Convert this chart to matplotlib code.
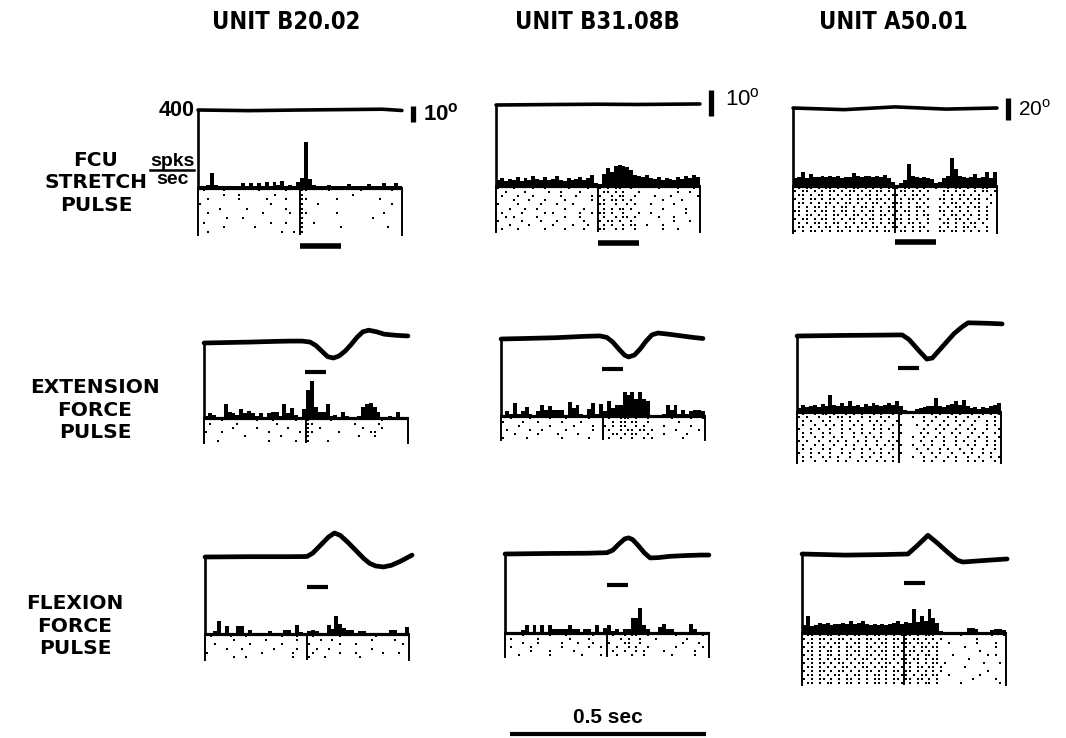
import numpy as np
import matplotlib
matplotlib.use("Agg")
import matplotlib.pyplot as plt
from matplotlib import font_manager as fm
from matplotlib.lines import Line2D
from matplotlib.transforms import blended_transform_factory as blend

# ---------------------------------------------------------------- data
UNITS = ["UNIT B20.02", "UNIT B31.08B", "UNIT A50.01"]
CONDITIONS = ["FCU\nSTRETCH\nPULSE", "EXTENSION\nFORCE\nPULSE", "FLEXION\nFORCE\nPULSE"]
SCALE_DEG = [10, 10, 20]            # angle calibration bars (deg)
FULL_SCALE = 400                    # spks/sec at top of rate axis
BIN = 0.01                          # histogram bin (s)
T_START, T_END = -0.26, 0.26        # time window around pulse onset (s)
PULSES = [(0.0, 0.105), (-0.003, 0.052), (0.0, 0.054)]   # pulse on/off (s)
TIME_BAR_SEC = 0.5

# histograms (spks/sec), 52 bins from -0.26 s
H11 = [10, 10, 15, 75, 15, 10, 10, 10, 10, 12, 10, 25, 12, 25, 10, 25, 12, 30, 10, 30,
       15, 35, 12, 15, 10, 30, 50, 235, 45, 15, 10, 12, 10, 15, 10, 10, 8, 8, 20, 8,
       8, 8, 8, 20, 8, 8, 8, 25, 8, 8, 25, 8]
H12 = [30, 40, 25, 35, 30, 45, 25, 40, 30, 50, 35, 30, 45, 30, 35, 50, 30, 25, 40, 30,
       35, 45, 30, 40, 55, 15, 10, 60, 90, 70, 100, 105, 100, 95, 80, 55, 50, 45, 55, 40,
       35, 45, 30, 40, 35, 30, 45, 35, 50, 40, 55, 45]
H13 = [40, 45, 70, 40, 60, 45, 45, 50, 45, 50, 45, 50, 40, 45, 45, 65, 50, 45, 50, 50,
       45, 50, 45, 55, 40, 20, 5, 15, 30, 115, 50, 45, 40, 45, 40, 35, 15, 20, 40, 50,
       145, 85, 50, 45, 40, 45, 60, 40, 45, 70, 40, 70]
H21 = [10, 25, 15, 5, 0, 75, 30, 25, 15, 50, 25, 40, 25, 10, 25, 0, 25, 30, 30, 10,
       75, 25, 55, 15, 0, 50, 150, 200, 60, 30, 30, 75, 10, 15, 5, 30, 10, 5, 0, 10,
       60, 75, 80, 60, 30, 5, 5, 10, 5, 30, 5, 0]
H22 = [5, 25, 10, 70, 10, 25, 45, 10, 5, 25, 55, 30, 50, 30, 30, 30, 5, 75, 40, 55,
       10, 5, 35, 65, 10, 60, 25, 80, 40, 55, 55, 125, 110, 125, 90, 125, 90, 80, 5, 5,
       5, 10, 55, 30, 55, 10, 30, 10, 25, 30, 30, 25]
H23 = [20, 35, 25, 30, 35, 25, 40, 30, 90, 35, 30, 45, 30, 60, 30, 35, 25, 40, 30, 50,
       35, 30, 35, 50, 35, 60, 30, 10, 5, 5, 15, 20, 25, 30, 30, 75, 30, 25, 35, 40,
       60, 35, 65, 30, 20, 25, 15, 25, 20, 30, 35, 50]
H31 = [0, 5, 15, 65, 5, 40, 5, 5, 40, 40, 5, 20, 0, 0, 0, 5, 15, 0, 0, 0,
       20, 20, 5, 45, 10, 5, 15, 20, 15, 5, 5, 45, 25, 95, 50, 30, 20, 20, 5, 15,
       15, 0, 0, 0, 0, 0, 0, 20, 20, 0, 5, 35]
H32 = [0, 5, 5, 5, 15, 40, 5, 40, 5, 40, 5, 40, 20, 20, 20, 20, 40, 20, 20, 5,
       20, 20, 5, 40, 5, 25, 40, 10, 20, 5, 20, 20, 75, 75, 125, 40, 20, 5, 5, 30,
       45, 20, 20, 0, 0, 0, 5, 45, 20, 0, 0, 0]
H33 = [40, 85, 35, 40, 50, 45, 50, 40, 45, 45, 50, 45, 60, 45, 50, 60, 45, 40, 45, 40,
       45, 40, 45, 50, 60, 45, 55, 50, 120, 55, 85, 60, 120, 75, 50, 10, 5, 5, 5, 5,
       5, 5, 25, 25, 20, 5, 5, 5, 15, 20, 20, 15]

# joint-angle traces: time (s) and angle (deg, relative to start)
TR11_T = [-0.26, -0.13, 0.0, 0.13, 0.21, 0.26]
TR11_D = [0, -0.4, 0, 0.3, 0.5, -0.3]
TR12_T = [-0.26, -0.1, 0.0, 0.1, 0.26]
TR12_D = [0, 0.2, 0.3, 0.2, 0.4]
TR13_T = [-0.26, -0.13, 0.0, 0.13, 0.26]
TR13_D = [0, -1.5, 1, -1, 0]
TR21_T = [-0.26, -0.2, -0.14, -0.08, -0.04, -0.01, 0.01, 0.025, 0.04, 0.055, 0.07,
          0.085, 0.10, 0.115, 0.13, 0.145, 0.16, 0.18, 0.2, 0.23, 0.26]
TR21_D = [0, 0.3, 0.6, 1.0, 1.2, 1.2, 0.6, -1.5, -5, -8.5, -9.4,
          -8, -5, -1, 3.5, 7, 8, 7, 5.5, 4.8, 4.4]
TR22_T = [-0.26, -0.2, -0.12, -0.05, -0.008, 0.01, 0.025, 0.04, 0.055, 0.065, 0.08,
          0.095, 0.11, 0.125, 0.14, 0.17, 0.2, 0.23, 0.255]
TR22_D = [0, 0.2, 0.5, 1.0, 1.2, 0.6, -1.2, -3.8, -6.2, -6.9, -6.2,
          -3.8, -0.8, 1.6, 2.3, 1.8, 1.2, 0.6, 0.2]
TR23_T = [-0.26, -0.15, -0.05, 0.008, 0.025, 0.04, 0.055, 0.071, 0.085, 0.1, 0.12,
          0.14, 0.16, 0.176, 0.2, 0.23, 0.263]
TR23_D = [0, 0.5, 0.8, 1, -3, -9, -15, -21, -20, -14, -6, 2, 8, 12, 11.8, 11.5, 11]
TR31_T = [-0.26, -0.15, -0.05, 0.0, 0.015, 0.035, 0.055, 0.07, 0.085, 0.105, 0.125,
          0.145, 0.16, 0.175, 0.195, 0.215, 0.24, 0.268]
TR31_D = [0, 0.2, 0.2, 0.3, 2.5, 7.5, 12.5, 15, 13.5, 9, 4, -1, -4, -5.6, -6.2, -5.2, -2.5, 1.2]
TR32_T = [-0.26, -0.15, -0.05, 0.0, 0.015, 0.03, 0.045, 0.055, 0.065, 0.08, 0.095,
          0.11, 0.13, 0.16, 0.2, 0.24, 0.26]
TR32_D = [0, 0.2, 0.3, 0.5, 1.5, 3.8, 5.8, 6.2, 5.6, 3.2, 0.5, -1.5, -1.4, -0.9, -0.6, -0.4, -0.4]
TR33_T = [-0.26, -0.15, -0.05, 0.01, 0.035, 0.061, 0.085, 0.11, 0.135, 0.15, 0.2, 0.263]
TR33_D = [0, -1, -0.5, 0, 8, 17, 10, 2, -5.5, -7.3, -6, -4.5]

# spike rasters: one string per trial, "pre|post", each char = one 10 ms bin
R11 = ["  .    .        .      .   |..     .       .       .   ",
       "       .   .        .      |.            .            ",
       "   .       .      .    .   |..       .          .     ",
       " .                 .       |.   .                  .  ",
       "      .      .         .   |.                         ",
       "   .             .      .  |..       .           .    ",
       "        .   .              |.                 .       ",
       "  .                .   .   |.  .                      ",
       "       .       .           |.         .           .   ",
       "   .                  .  . |.                         "]
R12 = [" .   .    .  .     .    .  |. . ..  .      .    .   . ",
       "   .    .     .  .    .    | .. . .   .         .  .  ",
       "  .   .   .      .   .   . |.  . ..  .    .   .      .",
       "     .   .   .    .      . | . .. . .       .    .   ",
       " .    .     .   .   .      |..  .  . .   .     .     ",
       "    .   .  .      .    .   | . . .. .       .     .  ",
       "  .    .     . .      .  . |.. .  .   .  .        . ",
       "   . .     .      .   .    | .  . .. .     .   .     ",
       " .     .    .   .      .   |. .. .  .          .   . ",
       "    .    .     .    .   .  | . .  . ..  .   .       ",
       "  .   .      .    .    .   |..  . .  .      .   .    "]
R13 = [". . .. . .. . . .. . . . ..|. .. . .  .  . .. . . ..  . ",
       " . .. . . .. . .. . . .. . | .. . . .   .. . .  . .. .",
       ". .. . .. . . .. . .. . . .|. . .. .    . . .. . .  . ",
       " . . .. . .. . . .. . .. . | . .. . .  .. . . . .. . ",
       "  .. . . .. . .. . . .. . .|.. . . .    . .. . . .  .",
       ". . . .. . . .. . .. . . ..| . . .. .  . . .. . .. . ",
       " .. . . .. . .. . . .. . . |. .. . .   .. . . .  . .",
       ". . .. . . .. . .. . . .. .| . . . ..   . .. . . . . ",
       " . .. . .. . . .. . .. . . |.. . .  .  . . .. .  . .",
       "  . . .. . .. . . .. . . ..| . .. . .   .. . . .. . ",
       ". .. . . .. . .. . . .. . .|. . . ..   . . . .. .  .",
       " . . .. . . .. . .. . . .. | .. . . .  .. .. . . . ."]
R21 = ["     .        .   .     .  |.     .            .     ",
       "  .      .         .       |..          .     .      ",
       "        .     .       .    |.  .          .    .     ",
       " .   .           .       . |..      .       ..        ",
       "           .        .      |.            .   .       ",
       "    .            .      .  |.    .                   "]
R22 = ["   .    .    .   .     .   | .  ... .  .     .    .  .",
       " .    .   .     .    .     |  . .. ..  .       .      ",
       "     .       .     .    .  |. . ..  . .    .      .   ",
       "  .     .  .     .      .  | .  . .. .. .     .     . ",
       "    .     .    .    .      |  .. . ..  .   .     .    ",
       " .     .        .      .   | .  .  .  . .       .     "]
R23 = [". .  . .. .  . . .  . .  . |.       . .  . .  .  . . . .",
       " . .  .  . .. .  . .  . .  |   .  .  .  . .  .  .   . .",
       "  . .  . .  . . .  . . .  .|      . .  .  . .  .  . .  ",
       ". .  .  . . .  . .  . .  . |.   .  .  . .  .  .   . . .",
       " .  . .  .  . .  .  . . .  |      .  . .  .  . .  .  . ",
       "  . .  . .  .  . . .  .  . |.    . .  .  . .  .  .  . .",
       ". .  . .  . .  .  . . .  . |   .  .  . .  .  .  . .  .",
       " . .  .  . . .  . .  .  . .|     .  .  .  . .  .  . .  ",
       "  .  . .  .  . .  .  . . . |.  .  . .  .  .  . .  . . ",
       ". . .  . .  .  . . .  .  . |    .  .  . .  .  .  .  . .",
       " .  . .  .  . .  .  . . .  |.    .  . .  .  . .  . .  ",
       "  . .  . . .  .  . .  .  . |   .  .  .  . .  .  .  . .",
       ". .  .  .  . .  . .  . . . |      . .  .  .  . . .  . "]
R31 = ["  .    .   .        .   .  | .      .        .       ",
       "        .       .       .  |   .  .         .     .   ",
       "   .        .       .      |.       .   .           . ",
       "      .   .       .     .  |  .  .          .        ",
       " .             .       .   | .      .   .      .   . ",
       "        .  .           .   |.   .        .           "]
R32 = ["     .      .   .      .   | .  . ..  .      .      .  ",
       "  .      .       .    .    |   . .  .   .       .    ",
       "     .   .     .   .   .   |.   ..  .          .   .  ",
       "  .    .       .      .  . |  .  . .  .      .      . ",
       "       .    .     .        | .  .  . .    .       .  ",
       "    .       .       .    . |  .   .  .      .     .  "]
R33 = [". .. . .. . . .. . .. . . .|.. . ...      .       .  .",
       " . . .. . .. . . .. . . .. |. .. . . .        .       ",
       ". .. . . .. . .. . . .. . .|.. .. . .  .      .    . ",
       " . . .. . . .. . .. . . .. |. . .. ..      .       .  ",
       ". .. . .. . . .. . . .. . .| .. . . .          .     ",
       " . . . .. . .. . .. . . .. |.. . .. .   .        . .",
       ". .. . . .. . . .. . .. . .|. .. . ..       .        ",
       " . . .. . .. . .. . . .. . |.. . . .. .         .   .",
       ". .. . . . .. . .. . .. . .| . .. .. .     .        ",
       " . . .. . .. . . .. . . .. |.. . . . .           .  ",
       ". .. . . .. . .. . .. . . .|. . .. ..  .       .     ",
       " . . .. . . .. . . .. . .. |.. .. . .        .     . ",
       ". .. . .. . .. . . .. . . .| . . .. .     .         ."]

HISTS = [[H11, H12, H13], [H21, H22, H23], [H31, H32, H33]]
TRACES = [[(TR11_T, TR11_D), (TR12_T, TR12_D), (TR13_T, TR13_D)],
          [(TR21_T, TR21_D), (TR22_T, TR22_D), (TR23_T, TR23_D)],
          [(TR31_T, TR31_D), (TR32_T, TR32_D), (TR33_T, TR33_D)]]
RASTERS = [[R11, R12, R13], [R21, R22, R23], [R31, R32, R33]]

# ---------------------------------------------------------------- layout (pixels)
W, H = 1066, 738
PX_PER_S = 392.0
PX_PER_DEG = [1.6, 2.6, 1.1]
MID = [[300, 598, 895], [306, 603, 899], [307, 607, 904]]
TRACE_Y = [[110, 105, 108], [343, 339, 336], [557, 554, 554]]
BASE_Y = [[188, 186, 186], [418, 416, 412], [634, 633, 633]]
RAST_BOT = [[235, 232, 233], [443, 440, 463], [660, 657, 685]]
BAR_Y = [[246, 243, 242], [372, 369, 368], [587, 585, 583]]
SCALE_LO = [-7.5, -4.4, -11.0]

names = {f.name for f in fm.fontManager.ttflist}
SANS = 'Liberation Sans' if 'Liberation Sans' in names else 'DejaVu Sans'
plt.rcParams['font.family'] = [SANS, 'DejaVu Sans']
plt.rcParams['mathtext.fontset'] = 'custom'
plt.rcParams['mathtext.rm'] = SANS
plt.rcParams['mathtext.bf'] = SANS + ':bold'

# look for a condensed / narrow bold face for the column titles
TITLE_FP = None
_prefs = ['liberationsansnarrow-bold.', 'dejavusanscondensed-bold.', 'robotocondensed-bold.',
          'opensanscondensed-bold.', 'opensans_condensed-bold.', 'notosans-condensedbold.',
          'notosansdisplay-condensedbold.']
_files = sorted({f.fname for f in fm.fontManager.ttflist})
for p in _prefs:
    hit = [fn for fn in _files if p in fn.lower().replace(' ', '').split('/')[-1]]
    if hit:
        TITLE_FP = fm.FontProperties(fname=hit[0], size=17)
        break
if TITLE_FP is None:
    for fn in _files:
        base = fn.lower().split('/')[-1]
        if (('narrow' in base or 'condensed' in base) and 'bold' in base
                and 'italic' not in base and 'oblique' not in base and 'semi' not in base
                and 'extra' not in base):
            TITLE_FP = fm.FontProperties(fname=fn, size=17)
            break
if TITLE_FP is None:
    TITLE_FP = fm.FontProperties(family=SANS, weight='bold', size=15)

fig = plt.figure(figsize=(W / 100, H / 100), dpi=100)
fig.patch.set_facecolor('white')


def fig_axes(x0, y0, x1, y1):
    ax = fig.add_axes([x0 / W, 1 - y1 / H, (x1 - x0) / W, (y1 - y0) / H])
    ax.patch.set_alpha(0)
    ax.set_xticks([])
    ax.set_yticks([])
    return ax


def fig_text(x, y, s, **kw):
    return fig.text(x / W, 1 - y / H, s, **kw)


def parse_raster(rows):
    ts, ys = [], []
    for i, row in enumerate(rows):
        pre, post = row.split('|')
        for k, ch in enumerate(reversed(pre)):
            t = -(k + 0.5) * BIN
            if ch != ' ' and t > T_START + 0.004:
                ts.append(t); ys.append(i + 0.5)
        for k, ch in enumerate(post):
            t = (k + 0.5) * BIN
            if ch != ' ' and t < T_END - 0.004:
                ts.append(t); ys.append(i + 0.5)
    return ts, ys


for r in range(3):
    for c in range(3):
        mid = MID[r][c]
        left = mid + T_START * PX_PER_S
        right = mid + T_END * PX_PER_S
        ty, by, rb = TRACE_Y[r][c], BASE_Y[r][c], RAST_BOT[r][c]

        # rate histogram
        ah = fig_axes(left, ty, right, by)
        vals = HISTS[r][c]
        edges = T_START + BIN * np.arange(len(vals) + 1)
        ah.fill_between(edges, 0, list(vals) + [vals[-1]], step='post',
                        color='black', linewidth=0)
        ah.set_xlim(T_START, T_END)
        ah.set_ylim(0, FULL_SCALE)
        for s in ('top', 'right'):
            ah.spines[s].set_visible(False)
        ah.spines['left'].set_linewidth(1.9)
        ah.spines['bottom'].set_linewidth(2.3)
        ah.spines['bottom'].set_capstyle('butt')

        # raster
        ar = fig_axes(left, by, right, rb)
        rows = RASTERS[r][c]
        ts, ys = parse_raster(rows)
        ar.scatter(ts, ys, s=2.2, c='black', marker='s', linewidths=0)
        ar.axvline(0, color='black', lw=1.4)
        ar.set_xlim(T_START, T_END)
        ar.set_ylim(len(rows) + 0.1, 0.1)
        for s in ('top', 'bottom'):
            ar.spines[s].set_visible(False)
        for s in ('left', 'right'):
            ar.spines[s].set_linewidth(1.4)

        # joint angle trace
        ppd = PX_PER_DEG[c]
        at = fig_axes(left, ty - 50, right, ty + 50)
        at.axis('off')
        at.set_xlim(T_START, T_END)
        at.set_ylim(-50 / ppd, 50 / ppd)
        tt, dd = TRACES[r][c]
        at.plot(tt, dd, color='black', lw=2.6 if r == 0 else 3.4, clip_on=False,
                solid_joinstyle='round', solid_capstyle='round')

        # calibration bars (top row)
        if r == 0:
            lo = SCALE_LO[c]
            at.plot([0.287, 0.287], [lo, lo + SCALE_DEG[c]], color='black', lw=3.8,
                    solid_capstyle='butt', clip_on=False)
            if c == 0:
                lab = r"$\mathbf{%d^{o}}$" % SCALE_DEG[c]
            else:
                lab = r"%d$^{\mathrm{o}}$" % SCALE_DEG[c]
            at.text(0.315 if c != 1 else 0.325, lo + SCALE_DEG[c] / 2 + (1.5 if c == 1 else 0),
                    lab, fontsize=16 if c < 2 else 15, va='center', ha='left',
                    color='black', clip_on=False)

        # pulse duration bar
        tr = blend(ah.transData, fig.transFigure)
        yb = 1 - BAR_Y[r][c] / H
        ah.plot(PULSES[r], [yb, yb], transform=tr, color='black',
                lw=4.0 if r == 0 else 3.0, solid_capstyle='butt', clip_on=False)

# column titles
for x, s in zip([286, 597, 893], UNITS):
    fig_text(x, 22, s, fontproperties=TITLE_FP, ha='center', va='center')

# row labels
for (x, y), s in zip([(96, 183), (95, 410), (75, 626)], CONDITIONS):
    fig_text(x, y, s, family=['DejaVu Sans'], fontweight='bold', fontsize=14.5,
             ha='center', va='center', multialignment='center', linespacing=1.25)

# rate axis labels
fig_text(195, 110, "400", fontweight='bold', fontsize=15.5, ha='right', va='center')
fig_text(172, 161, "spks", fontweight='bold', fontsize=14, ha='center', va='center')
fig_text(173, 180, "sec", fontweight='bold', fontsize=14, ha='center', va='center')
fig.add_artist(Line2D([150 / W, 194 / W], [1 - 170 / H] * 2, color='black', lw=1.8))

# time calibration bar
ab = fig_axes(490, 700, 730, 738)
ab.axis('off')
ab.set_xlim((490 - 510) / PX_PER_S, (730 - 510) / PX_PER_S)
ab.set_ylim(738, 700)
ab.plot([0, TIME_BAR_SEC], [734, 734], color='black', lw=3.0, solid_capstyle='butt',
        clip_on=False)
ab.text(TIME_BAR_SEC / 2, 717, "0.5 sec", fontweight='bold', fontsize=15,
        ha='center', va='center')

fig.savefig("out.png", dpi=100, facecolor='white')
